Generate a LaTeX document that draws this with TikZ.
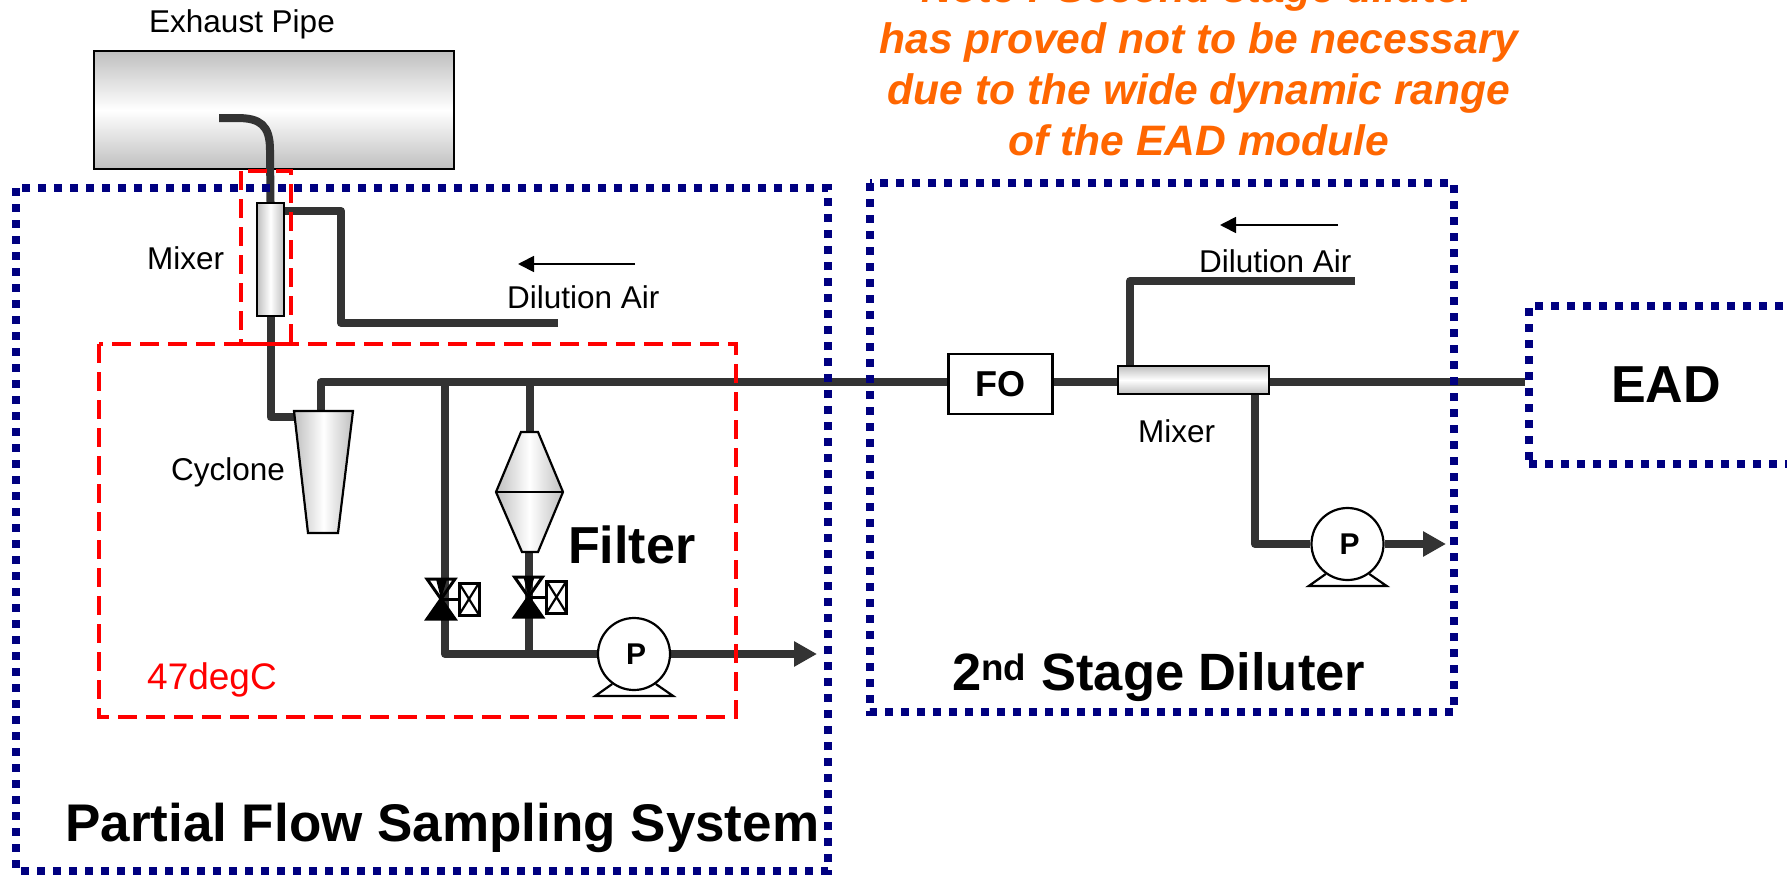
\documentclass[tikz,border=0pt]{standalone}
\usepackage{fontspec}
\setmainfont{Liberation Sans}
\usetikzlibrary{arrows.meta, backgrounds}
\definecolor{pipegray}{RGB}{51,51,51}
\definecolor{framenavy}{RGB}{0,0,128}
\definecolor{noteorange}{RGB}{255,102,0}
\tikzset{
  % Thick process lines
  pipe/.style={draw=pipegray, line width=8pt, line join=round},
  pipeout/.style={pipe, -{Triangle[length=23pt, width=24pt]}},
  % Thin flow direction arrows
  flow/.style={draw=black, line width=1.8pt, -{Triangle[length=16pt, width=16pt]}},
  % Outlines
  outline/.style={draw=black, line width=2.2pt},
  shadeh/.style={outline, left color=gray!50, right color=gray!50, middle color=white},
  shadev/.style={outline, top color=gray!50, bottom color=gray!50, middle color=white},
  % Dotted and dashed frames
  dotframe/.style={draw=framenavy, line width=8pt, dash pattern=on 8pt off 8pt},
  heatframe/.style={draw=red, line width=4.5pt, dash pattern=on 19pt off 9pt},
  % Components
  pump/.style={outline, fill=white, shape=circle, minimum size=72pt, inner sep=0pt,
    font=\fontsize{30}{34}\selectfont\bfseries},
  orifice/.style={outline, fill=white, minimum width=104pt, minimum height=60pt, inner sep=0pt,
    font=\fontsize{36}{40}\selectfont\bfseries},
  % Texts
  tag/.style={inner sep=0pt, font=\fontsize{31.5}{36}\selectfont, anchor=base west},
  heading/.style={inner sep=0pt, font=\fontsize{52}{60}\selectfont\bfseries, anchor=base west},
  valve/.pic={
    \fill[black] (-5,-20) -- (6,-20) -- (0,0) -- cycle;
    \draw[outline, line width=3pt] (-14,-20) -- (14,-20) -- (0,0) -- cycle;
    \filldraw[outline, line width=3pt, fill=black] (-14,20) -- (14,20) -- (0,0) -- cycle;
    \draw[outline, line width=3pt] (0,0) -- (18,0);
    \draw[outline, line width=3pt, fill=white] (18,-16) rectangle (38,16);
    \draw[outline] (18,-16) -- (38,16) (18,16) -- (38,-16);
  },
}

\begin{document}
\begin{tikzpicture}[x=1pt, y=-1pt]
  \useasboundingbox (0,0) rectangle (1787,875);
  \clip (0,0) rectangle (1787,875);

  % Frames
  \draw[dotframe] (16,188) rectangle (828,871);
  \draw[dotframe] (870,183) rectangle (1454,712);
  \draw[heatframe] (241,171) rectangle (291,344);
  \draw[heatframe] (99,344) rectangle (736,717);

  % Components
  \node[shadeh, minimum width=27pt, minimum height=113pt, inner sep=0pt] (mixerA) at (270.5,259.5) {};
  \draw[shadeh] (294,411) -- (353,411) -- (338,533) -- (308,533) -- cycle;
  \draw[shadeh] (521,432) -- (538,432) -- (563,492) -- (538,552) -- (522,552) -- (496,492) -- cycle;
  \draw[outline] (496,492) -- (563,492);
  \node[pump] (pumpA) at (634,654) {\hspace{4pt}P};
  \node[pump] (pumpB) at (1347.5,544) {\hspace{4pt}P};
  \draw[outline] (pumpA.234) -- ++(-17,12) -- ++(78,0) -- (pumpA.306);
  \draw[outline] (pumpB.234) -- ++(-17,12) -- ++(78,0) -- (pumpB.306);
  \node[orifice] (fo) at (1000.5,384) {FO\hspace{4pt}};
  \node[shadev, minimum width=151pt, minimum height=28pt, inner sep=0pt] (mixerB) at (1193.5,380) {};
  \node[dotframe, minimum width=400pt, minimum height=158pt, inner sep=0pt, anchor=west] (ead) at (1525,385) {};
  \pic at (441,599) {valve};
  \pic at (528.5,597) {valve};

  % Junctions and free ends
  \coordinate (inlet) at (219,118);
  \coordinate (airA) at (558,323);
  \coordinate (airAup) at (341,211);
  \coordinate (mixerAside) at (284,211);
  \coordinate (cyclonein) at (294,417);
  \coordinate (cyclonetop) at (321,411);
  \coordinate (teeA) at (445,382);
  \coordinate (teeB) at (530,382);
  \coordinate (filterin) at (530,432);
  \coordinate (filterout) at (529,552);
  \coordinate (exitA) at (817,654);
  \coordinate (airB) at (1355,281);
  \coordinate (mixerBtop) at (1130,366);
  \coordinate (mixerBout) at (1255,394);
  \coordinate (exitB) at (1446,544);

  \begin{pgfonlayer}{background}
    \node[shadev, minimum width=360pt, minimum height=118pt, inner sep=0pt] (exhaust) at (274,110) {};
    \draw[pipe] (inlet) -- (237,118) .. controls (260,118) and (270,125) .. (270,150) -- (mixerA.north);
    \draw[pipe] (mixerA.south) |- (cyclonein);
    \draw[pipe] (airA) -| (airAup) -- (mixerAside);
    \draw[pipe] (cyclonetop) |- (ead.west |- teeA);
    \draw[pipe] (teeA) |- (pumpA);
    \draw[pipe] (teeB) -- (filterin);
    \draw[pipe] (filterout) -- (filterout |- pumpA);
    \draw[pipeout] (pumpA.east) -- (exitA);
    \draw[pipe] (airB) -| (mixerBtop);
    \draw[pipe] (mixerBout) |- (pumpB);
    \draw[pipeout] (pumpB.east) -- (exitB);
  \end{pgfonlayer}

  % Flow direction
  \coordinate (flowAtail) at (635,264);
  \coordinate (flowAtip) at (518,264);
  \coordinate (flowBtail) at (1338,225);
  \coordinate (flowBtip) at (1220,225);
  \draw[flow] (flowAtail) -- (flowAtip);
  \draw[flow] (flowBtail) -- (flowBtip);

  % Labels
  \node[tag] (exhausttag) at (149,33) {Exhaust Pipe};
  \node[tag] (mixerAtag) at (147,269) {Mixer};
  \node[tag] (airAtag) at (507,308) {Dilution Air};
  \node[tag] (cyclonetag) at (171,480) {Cyclone};
  \node[tag] (airBtag) at (1199,272) {Dilution Air};
  \node[tag] (mixerBtag) at (1138,442) {Mixer};
  \node[tag, text=red, font=\fontsize{37}{40}\selectfont] (temptag) at (147,689) {47degC};
  \node[heading] (filtertag) at (568,563) {Filter};
  \node[heading, font=\fontsize{52.5}{60}\selectfont\bfseries] (dilutertag) at (952,690) {2\textsuperscript{nd} Stage Diluter};
  \node[heading, font=\fontsize{53}{60}\selectfont\bfseries] (partialtag) at (65,841) {Partial Flow Sampling System};
  \node[heading] (eadtag) at (1611,402) {EAD};
  \node[inner sep=0pt, align=center, text=noteorange, font=\fontsize{42.6}{51}\selectfont\bfseries\itshape,
    anchor=base] (note) at (1199,155) {Note : Second stage diluter\\has proved not to be necessary\\due to the wide dynamic range\\of the EAD module};
\end{tikzpicture}
\end{document}
